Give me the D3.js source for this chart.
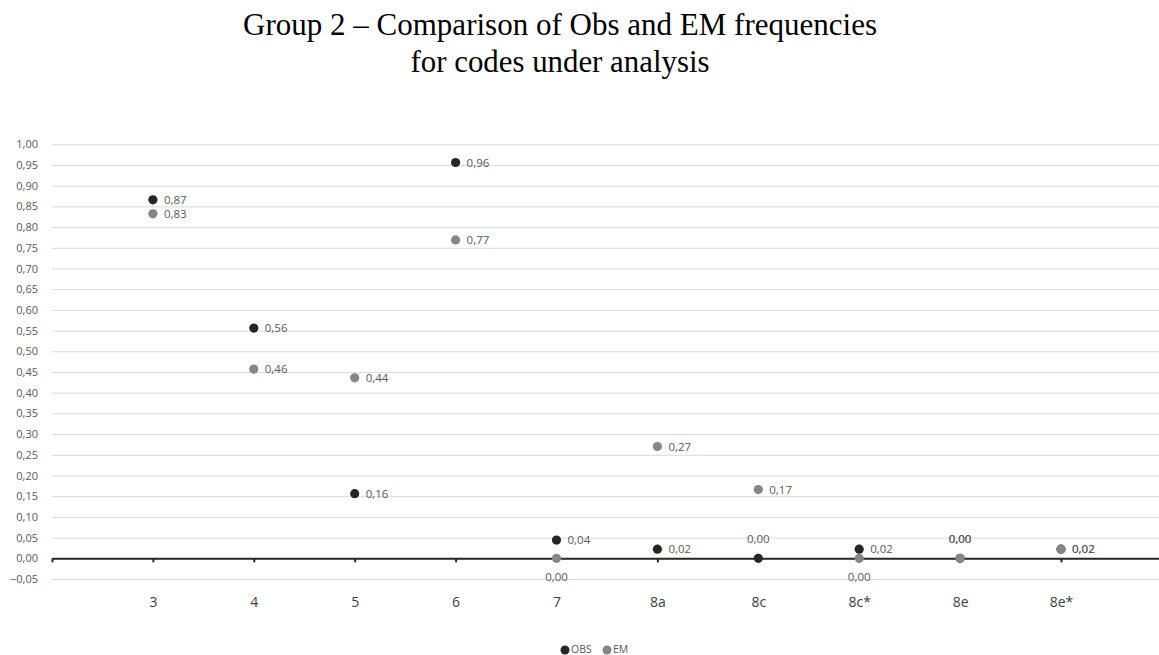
<!DOCTYPE html>
<html>
<head>
<meta charset="utf-8">
<script src="https://cdn.jsdelivr.net/npm/d3@7"></script>
<style>
  body { margin: 0; background: #fff; }
  svg { display: block; }
</style>
</head>
<body>
<div id="chart"></div>
<script>
// codes under analysis
const categories = ['3', '4', '5', '6', '7', '8a', '8c', '8c*', '8e', '8e*'];
const obsValues = [0.866, 0.556, 0.156, 0.956, 0.044, 0.022, 0.0, 0.022, 0.0, 0.022];
const emValues = [0.832, 0.457, 0.436, 0.769, 0.0, 0.270, 0.166, 0.0, 0.0, 0.022];
const yTickValues = [-0.05, 0, 0.05, 0.10, 0.15, 0.20, 0.25, 0.30, 0.35, 0.40, 0.45, 0.50,
    0.55, 0.60, 0.65, 0.70, 0.75, 0.80, 0.85, 0.90, 0.95, 1.00];
const titleLines = ['Group 2 \u2013 Comparison of Obs and EM frequencies', 'for codes under analysis'];

const width = 1159,
    height = 655;

const obsColor = '#262626',
    emColor = '#868686',
    textColor = '#595959';

// where excel put the data labels (default is right of the point)
const labelPlacement = {
    OBS: { '8c': 'above', '8e': 'above' },
    EM: { '7': 'below', '8c*': 'below', '8e': 'above' }
};

const fmt = v => d3.format('.2f')(v).replace('.', ',');

const svg = d3.select('#chart').append('svg')
    .attr('width', width)
    .attr('height', height);

svg.append('rect')
    .attr('width', width)
    .attr('height', height)
    .attr('fill', '#fff');

// title (the original is a bit condensed, so squeeze to its width)
const titleWidths = [634, 299];
svg.append('g').selectAll('text')
    .data(titleLines)
    .enter()
    .append('text')
    .attr('x', 560)
    .attr('y', (d, i) => 35 + i * 37)
    .attr('text-anchor', 'middle')
    .attr('font-family', '"Liberation Serif", "Times New Roman", serif')
    .attr('font-size', 31.5)
    .attr('textLength', (d, i) => titleWidths[i])
    .attr('lengthAdjust', 'spacingAndGlyphs')
    .attr('fill', '#000')
    .text(d => d);

const x = d3.scaleLinear()
    .domain([0, categories.length + 1])
    .range([52, 52 + 100.9 * (categories.length + 1)]);

const y = d3.scaleLinear()
    .domain([-0.05, 1.0])
    .range([579.0, 144.3]);

// y axis + gridlines
const yAxis = svg.append('g')
    .attr('transform', 'translate(52,0)')
    .call(d3.axisLeft(y)
        .tickValues(yTickValues)
        .tickSize(-(width - 52))
        .tickPadding(14)
        .tickFormat(fmt));
yAxis.select('.domain').remove();
yAxis.selectAll('line')
    .attr('stroke', '#d9d9d9')
    .attr('stroke-width', 1);
yAxis.selectAll('text')
    .attr('font-family', '"Open Sans", sans-serif')
    .attr('font-size', 11)
    .attr('fill', textColor);

// category axis sitting on zero
const xAxis = svg.append('g')
    .attr('transform', 'translate(0,' + y(0) + ')')
    .call(d3.axisBottom(x)
        .tickValues(d3.range(0, categories.length + 1))
        .tickSize(4)
        .tickSizeOuter(0)
        .tickPadding(35)
        .tickFormat(i => i === 0 ? '' : categories[i - 1]));
xAxis.select('.domain')
    .attr('stroke', obsColor)
    .attr('stroke-width', 2);
xAxis.selectAll('line')
    .attr('stroke', obsColor)
    .attr('stroke-width', 2);
xAxis.selectAll('text')
    .attr('font-family', '"Open Sans", sans-serif')
    .attr('font-size', 14)
    .attr('fill', '#404040');

const series = [
    { name: 'OBS', color: obsColor, values: obsValues },
    { name: 'EM', color: emColor, values: emValues }
];

series.forEach(s => {
    const pts = s.values.map((v, i) => ({ cat: categories[i], i: i, v: v }));
    const g = svg.append('g').attr('class', 'series-' + s.name);

    g.selectAll('circle')
        .data(pts)
        .enter()
        .append('circle')
        .attr('cx', d => x(d.i + 1))
        .attr('cy', d => y(d.v))
        .attr('r', 4.6)
        .attr('fill', s.color);

    g.selectAll('text')
        .data(pts)
        .enter()
        .append('text')
        .attr('x', d => {
            const p = labelPlacement[s.name][d.cat];
            return p ? x(d.i + 1) : x(d.i + 1) + 11;
        })
        .attr('y', d => {
            const p = labelPlacement[s.name][d.cat];
            if (p === 'above') return y(d.v) - 19;
            if (p === 'below') return y(d.v) + 19;
            return y(d.v);
        })
        .attr('dy', '0.35em')
        .attr('text-anchor', d => labelPlacement[s.name][d.cat] ? 'middle' : 'start')
        .attr('font-family', '"Open Sans", sans-serif')
        .attr('font-size', 11.5)
        .attr('fill', textColor)
        .text(d => fmt(d.v));
});

// legend
const legend = svg.append('g')
    .selectAll('g')
    .data(series)
    .enter()
    .append('g')
    .attr('transform', (d, i) => 'translate(' + (565 + i * 42) + ',650)');
legend.append('circle')
    .attr('r', 4.5)
    .attr('fill', d => d.color);
legend.append('text')
    .attr('x', 6)
    .attr('y', 3)
    .attr('font-family', '"Open Sans", sans-serif')
    .attr('font-size', 10.5)
    .attr('fill', textColor)
    .text(d => d.name);
</script>
</body>
</html>
